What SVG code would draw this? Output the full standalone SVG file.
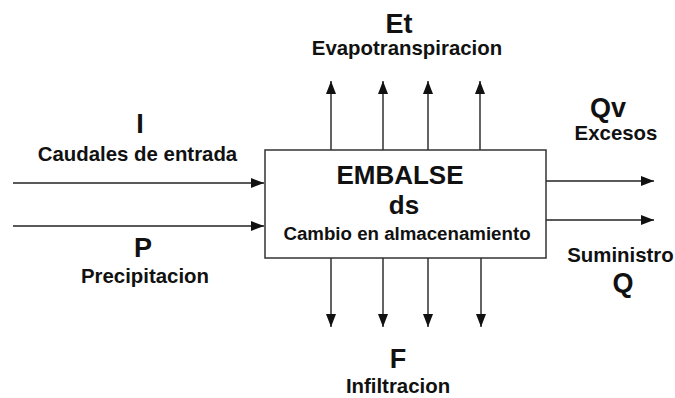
<svg xmlns="http://www.w3.org/2000/svg" width="675" height="398" viewBox="0 0 675 398">
<style>
text{font-family:"Liberation Sans",Arial,sans-serif;font-weight:bold;fill:#111;text-anchor:middle}
.big{font-size:27px}
.lab{font-size:20.4px}
.con{stroke:#222;stroke-width:1.4;fill:none;marker-end:url(#ah)}
</style>
<defs>
<marker id="ah" markerUnits="userSpaceOnUse" markerWidth="13" markerHeight="10" refX="13" refY="5" orient="auto">
<path d="M0,0 L13,5 L0,10 z" fill="#111"/>
</marker>
</defs>
<rect width="675" height="398" fill="#fff"/>
<g id="connectors">
<line class="con" x1="13" y1="183" x2="264" y2="183"/>
<line class="con" x1="13" y1="226" x2="264" y2="226"/>
<line class="con" x1="331" y1="150" x2="331" y2="81"/>
<line class="con" x1="383" y1="150" x2="383" y2="81"/>
<line class="con" x1="428" y1="150" x2="428" y2="81"/>
<line class="con" x1="480" y1="150" x2="480" y2="81"/>
<line class="con" x1="331" y1="258" x2="331" y2="327"/>
<line class="con" x1="383" y1="258" x2="383" y2="327"/>
<line class="con" x1="428" y1="258" x2="428" y2="327"/>
<line class="con" x1="481" y1="258" x2="481" y2="327"/>
<line class="con" x1="546" y1="181" x2="654" y2="181"/>
<line class="con" x1="546" y1="220" x2="654" y2="220"/>
</g>
<g id="embalse">
<rect x="265" y="150" width="281" height="108" fill="#fff" stroke="#333" stroke-width="1.5"/>
<text x="400" y="184" style="font-size:26px">EMBALSE</text>
<text x="404" y="214" style="font-size:26px">ds</text>
<text x="407" y="240" style="font-size:18.7px">Cambio en almacenamiento</text>
</g>
<g id="inflow-I">
<text class="big" x="140" y="133">I</text>
<text class="lab" x="137.5" y="161">Caudales de entrada</text>
</g>
<g id="precip-P">
<text class="big" x="143" y="257">P</text>
<text class="lab" x="145" y="283">Precipitacion</text>
</g>
<g id="evapo-Et">
<text x="399" y="33" style="font-size:27px">Et</text>
<text class="lab" x="407" y="55">Evapotranspiracion</text>
</g>
<g id="excess-Qv">
<text class="big" x="608" y="117">Qv</text>
<text class="lab" x="616" y="140">Excesos</text>
</g>
<g id="supply-Q">
<text class="lab" x="620.5" y="262">Suministro</text>
<text class="big" x="623" y="292">Q</text>
</g>
<g id="infiltration-F">
<text class="big" x="398" y="368">F</text>
<text class="lab" x="398" y="393">Infiltracion</text>
</g>
</svg>
